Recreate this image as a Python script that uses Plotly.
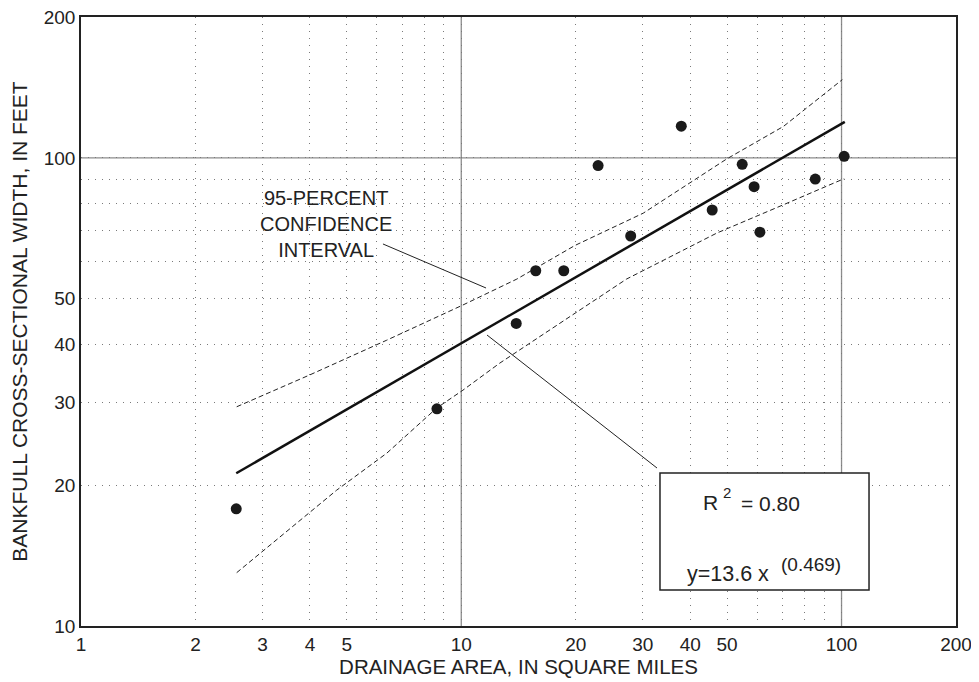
import math
import plotly.graph_objects as go

# ---- data ----
drainage_area = [2.56, 8.63, 13.95, 15.7, 18.6, 22.9, 27.9, 37.9, 45.7, 54.8, 58.9, 61.0, 85.3, 101.6]
bankfull_width = [17.8, 29.1, 44.3, 57.4, 57.4, 96.3, 68.1, 116.9, 77.4, 96.9, 86.8, 69.4, 90.1, 100.8]

fit_x = [2.56, 102.0]
fit_y = [21.2, 119.4]

upper_x = [2.567, 4.0, 6.37, 10.1, 14.0, 19.9, 30.1, 49.9, 70.3, 100.5]
upper_y = [29.4, 34.4, 40.8, 48.5, 55.1, 65.0, 76.2, 99.5, 116.7, 147.0]

lower_x = [2.567, 4.70, 6.37, 8.61, 10.1, 12.6, 27.2, 47.0, 70.3, 101.6]
lower_y = [13.0, 19.5, 23.4, 29.2, 31.9, 36.4, 55.1, 69.1, 79.4, 90.3]

x_ticks = [1, 2, 3, 4, 5, 10, 20, 30, 40, 50, 100, 200]
y_ticks = [10, 20, 30, 40, 50, 100, 200]
x_minor = [6, 7, 8, 9, 60, 70, 80, 90]
y_minor = [60, 70, 80, 90]
x_solid = [10, 100]
y_solid = [100]

FONT = "Liberation Sans, Arial, Helvetica, sans-serif"
INK = "#222222"
GRID = "#7a7a7a"
SOLID = "#8c8c8c"
DOTS = "1px,6px"

fig = go.Figure()

fig.add_trace(go.Scatter(x=upper_x, y=upper_y, mode="lines",
                         line=dict(color=INK, width=1, dash="5px,3px"), hoverinfo="skip"))
fig.add_trace(go.Scatter(x=lower_x, y=lower_y, mode="lines",
                         line=dict(color=INK, width=1, dash="5px,3px"), hoverinfo="skip"))
fig.add_trace(go.Scatter(x=fit_x, y=fit_y, mode="lines",
                         line=dict(color="#111111", width=2.5)))
fig.add_trace(go.Scatter(x=drainage_area, y=bankfull_width, mode="markers",
                         marker=dict(color="#1a1a1a", size=11)))

for xv in x_solid:
    fig.add_vline(x=xv, line=dict(color=SOLID, width=1.3), layer="below")
for yv in y_solid:
    fig.add_hline(y=yv, line=dict(color=SOLID, width=1.3), layer="below")

# leader lines and equation box (paper coordinates)
fig.add_shape(type="line", xref="paper", yref="paper",
              x0=0.3451, y0=0.6273, x1=0.4629, y1=0.555,
              line=dict(color=INK, width=1))
fig.add_shape(type="line", xref="paper", yref="paper",
              x0=0.464, y0=0.4778, x1=0.6583, y1=0.2594,
              line=dict(color=INK, width=1))
fig.add_shape(type="rect", xref="paper", yref="paper",
              x0=0.6617, y0=0.0591, x1=0.9006, y1=0.2512,
              line=dict(color=INK, width=1.5), fillcolor="white", layer="above")

def note(x, y, text, size, xanchor="left", align="left"):
    fig.add_annotation(xref="paper", yref="paper", x=x, y=y,
                       xanchor=xanchor, yanchor="middle", align=align,
                       text=text, showarrow=False, borderpad=0,
                       font=dict(family=FONT, size=size, color=INK))

note(0.28, 0.660, "95-PERCENT<br>CONFIDENCE<br>INTERVAL", 20, "center", "center")
note(0.7095, 0.2028, "R", 21)
note(0.7330, 0.2200, "2", 15)
note(0.7530, 0.2011, "= 0.80", 21)
note(0.6910, 0.0862, "y=13.6 x", 21.5)
note(0.7990, 0.1002, "(0.469)", 19)

axis_common = dict(
    type="log", automargin=False, ticklabeloverflow="allow",
    showgrid=True, gridcolor=GRID, gridwidth=1, griddash=DOTS,
    showline=True, linecolor="#222222", linewidth=1.6, mirror=True,
    zeroline=False, ticks="", tickfont=dict(family=FONT, size=19, color=INK),
)

# the page adds an 8px body margin, so the figure is 8px smaller and margins are
# reduced by 8 on the left/top to keep the plot area at the reference position
fig.update_layout(
    width=971, height=674,
    margin=dict(l=73, r=23, t=9, b=56),
    paper_bgcolor="white", plot_bgcolor="white",
    showlegend=False,
    xaxis=dict(**axis_common,
               range=[0, math.log10(200)],
               tickvals=x_ticks, ticktext=[str(v) for v in x_ticks],
               minor=dict(tickvals=x_minor, showgrid=True, gridcolor=GRID,
                          gridwidth=1, griddash=DOTS, ticks=""),
               title=dict(text="DRAINAGE AREA, IN SQUARE MILES", standoff=4,
                          font=dict(family=FONT, size=20.5, color=INK))),
    yaxis=dict(**axis_common,
               range=[1, math.log10(200)],
               tickvals=y_ticks, ticktext=[str(v) for v in y_ticks],
               minor=dict(tickvals=y_minor, showgrid=True, gridcolor=GRID,
                          gridwidth=1, griddash=DOTS, ticks=""),
               title=dict(text="BANKFULL CROSS-SECTIONAL WIDTH, IN FEET", standoff=12,
                          font=dict(family=FONT, size=21, color=INK))),
)

fig.write_html("out.html")
